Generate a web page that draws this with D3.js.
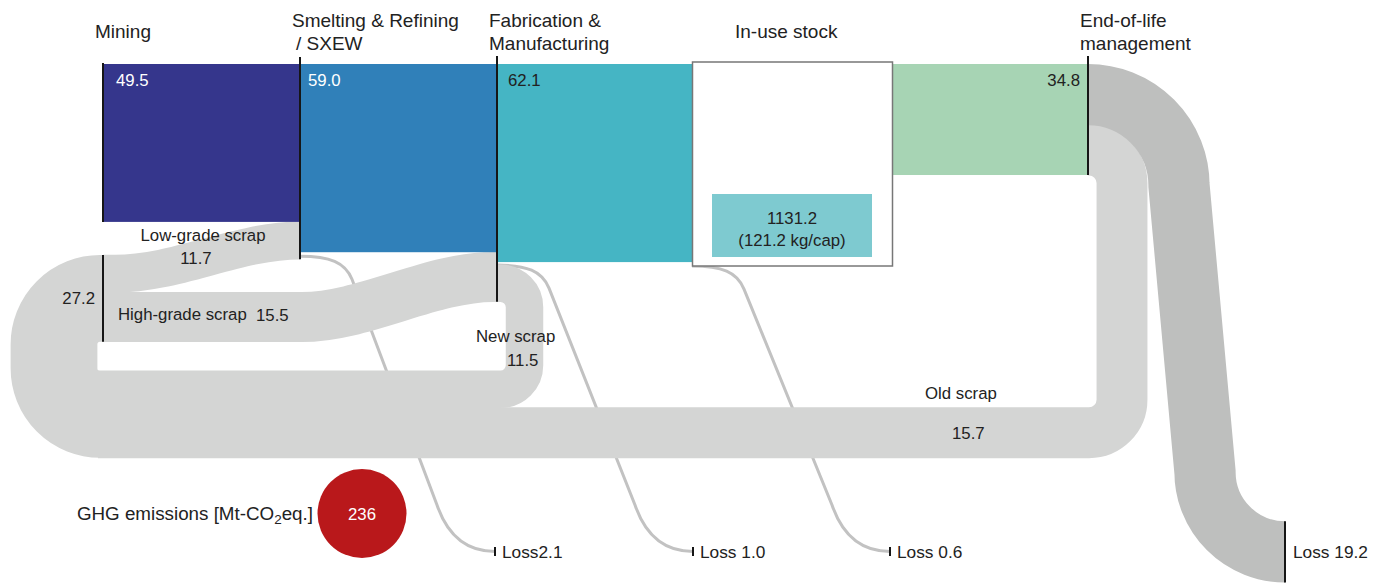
<!DOCTYPE html>
<html><head><meta charset="utf-8">
<script src="https://cdn.jsdelivr.net/npm/d3@7"></script>
<style>
html,body{margin:0;padding:0;background:#fff}
svg{display:block}
text{font-family:"Liberation Sans",Arial,Helvetica,sans-serif;fill:#222}
</style>
</head><body>
<svg id="c" width="1383" height="583"></svg>
<script>
// ---------------- data ----------------
const stageLabels = [["Mining"], ["Smelting & Refining", "/ SXEW"], ["Fabrication &", "Manufacturing"], ["In-use stock"], ["End-of-life", "management"]];
const stageValues = [49.5, 59.0, 62.1, null, 34.8];
const scrapNames = ["Low-grade scrap", "High-grade scrap", "New scrap", "Old scrap"];
const scrapValues = [11.7, 15.5, 11.5, 15.7];
const recycledTotal = 27.2;
const lossLabels = ["Loss", "Loss ", "Loss ", "Loss "];
const lossValues = [2.1, 1.0, 0.6, 19.2];
const stockValue = 1131.2;
const stockPerCap = 121.2;
const ghgValue = 236;

// ---------------- styles ----------------
const stageColors = ["#35368c", "#3080b9", "#45b5c4", null, "#a7d4b4"];
const numColors = ["#fff", "#fff", "#222", null, "#222"];
const scrapColor = "#d4d5d4", lossBandColor = "#bebfbe", lossLineColor = "#c2c2c2";

const svg = d3.select("#c");
const k = d3.scaleLinear().domain([0, 100]).range([0, 319]);      // flow width scale
const xS = d3.scaleLinear().domain([0, 5]).range([103, 1088]);    // stage positions
const yTop = 64;
const scrapTop = 255;
const holeH = 29.2;
const fs = 16.8;

const gLoss = svg.append("g"), gBand = svg.append("g"), gBar = svg.append("g"),
      gLine = svg.append("g"), gText = svg.append("g");

function band(p, w, color, g, pad) {
  (g || gBand).append("path").attr("d", p.toString()).attr("fill", "none")
    .attr("stroke", color).attr("stroke-width", w + (pad || 0)).attr("stroke-linecap", "butt");
}
function vline(x, y0, y1, w) {
  gLine.append("line").attr("x1", x).attr("x2", x).attr("y1", y0).attr("y2", y1)
    .attr("stroke", "#161616").attr("stroke-width", w || 2);
}
function txt(x, y, s, opt) {
  opt = opt || {};
  return gText.append("text").attr("x", x).attr("y", y).text(s)
    .attr("font-size", opt.size || fs).attr("text-anchor", opt.anchor || "start")
    .style("fill", opt.fill || "#222");
}

// ---------------- derived geometry ----------------
const mineBot = yTop + k(stageValues[0]);
const smeltBot = yTop + k(stageValues[1]);
const fabBot = yTop + k(stageValues[2]);
const eolBot = yTop + k(stageValues[4]);
const wLow = k(scrapValues[0]), wHigh = k(scrapValues[1]), wNew = k(scrapValues[2]), wOld = k(scrapValues[3]);
const wTot = k(recycledTotal);
const bottomTop = scrapTop + wTot + holeH;          // top of horizontal return bands
const newY = bottomTop + wNew / 2;
const oldY = bottomTop + wNew + wOld / 2;
const loopBotY = bottomTop + wTot / 2;
const loopTopY = scrapTop + wTot / 2;
const loopX = xS(0) - 3;

// ---------------- thin loss lines ----------------
const lossStarts = [[xS(1), mineBot + wLow - 3], [xS(2), fabBot + 3], [xS(3) - 2, fabBot + 4]];
const lossEnds = [xS(2) - 2, xS(3) - 1, xS(4) - 1];
const lossY = 551.5;
lossStarts.forEach((s, i) => {
  const p = d3.path();
  const xs = s[0], ys = s[1], xe = lossEnds[i];
  p.moveTo(xs, ys);
  p.bezierCurveTo(xs + 30, ys, xs + 45, ys + 6, xs + 52, ys + 23);
  p.lineTo(xe - 58, 505);
  p.bezierCurveTo(xe - 48, 534, xe - 30, lossY, xe, lossY);
  band(p, 3, lossLineColor, gLoss);
  vline(xe, lossY - 4.5, lossY + 4.5, 2);
  txt(xe + 7, lossY + 6, lossLabels[i] + lossValues[i].toFixed(1), {size: 17.3});
});

// ---------------- scrap bands ----------------
// old scrap: from end-of-life down and back left
{
  const p = d3.path();
  const y0 = eolBot - wOld / 2, r = 33, cx = xS(5) + 1, vx = cx + r;
  p.moveTo(xS(5), y0); p.lineTo(cx, y0);
  p.arc(cx, y0 + r, r, -Math.PI / 2, 0, false);
  p.lineTo(vx, oldY - r);
  p.arc(cx, oldY - r, r, 0, Math.PI / 2, false);
  p.lineTo(loopX - 2, oldY);
  band(p, wOld, scrapColor, null, 0.8);
}
// new scrap: from fabrication down and back left
{
  const p = d3.path();
  const y0 = smeltBot + wHigh - wNew / 2, r = 24, cx = xS(2) + 3.5, vx = cx + r;
  p.moveTo(xS(2), y0); p.lineTo(cx, y0);
  p.arc(cx, y0 + r, r, -Math.PI / 2, 0, false);
  p.lineTo(vx, newY - r);
  p.arc(cx, newY - r, r, 0, Math.PI / 2, false);
  p.lineTo(loopX - 2, newY);
  band(p, wNew, scrapColor, null, 0.8);
}
// left loop (combined recycled scrap)
{
  const p = d3.path(), r = 46;
  p.moveTo(xS(0) + 2, loopBotY); p.lineTo(loopX, loopBotY);
  p.arc(loopX, loopBotY - r, r, Math.PI / 2, Math.PI, false);
  p.lineTo(loopX - r, loopTopY + r);
  p.arc(loopX, loopTopY + r, r, Math.PI, Math.PI * 1.5, false);
  p.lineTo(xS(0) + 2, loopTopY);
  band(p, wTot, scrapColor);
}
// low-grade scrap -> smelting
{
  const p = d3.path();
  const y0 = scrapTop + wLow / 2, y1 = mineBot + wLow / 2, x0 = xS(0), x1 = xS(1), dx = (x1 - x0) * 0.32;
  p.moveTo(x0, y0); p.lineTo(x0 + 12, y0);
  p.bezierCurveTo(x0 + 12 + dx, y0, x1 - dx, y1, x1, y1);
  band(p, wLow, scrapColor, null, 0.6);
}
// high-grade scrap -> fabrication
{
  const p = d3.path();
  const y0 = scrapTop + wLow + wHigh / 2, y1 = smeltBot + wHigh / 2, x0 = xS(0), xa = xS(1) + 2, x1 = xS(2) - 4, dx = (x1 - xa) * 0.32;
  p.moveTo(x0, y0); p.lineTo(xa, y0); p.bezierCurveTo(xa + dx, y0, x1 - dx, y1, x1, y1);
  p.lineTo(xS(2), y1);
  band(p, wHigh, scrapColor, null, 0.6);
}
// end-of-life loss band
{
  const w = k(lossValues[3]), y0 = yTop + w / 2, r1 = 91, r2 = 80;
  const endX = 1285, endY = 583 - w / 2 - 0.5;
  const p = d3.path();
  p.moveTo(xS(5), y0);
  p.arc(xS(5), y0 + r1, r1, -Math.PI / 2, 0, false);
  p.lineTo(endX - r2, endY - r2);
  p.arc(endX, endY - r2, r2, Math.PI, Math.PI / 2, true);
  band(p, w, lossBandColor);
  vline(endX, endY - w / 2, endY + w / 2, 2);
  txt(endX + 8, lossY + 6, lossLabels[3] + lossValues[3].toFixed(1), {size: 17.3});
}

// ---------------- stage bars ----------------
stageValues.forEach((v, i) => {
  if (v === null) return;
  const x0 = xS(i), x1 = i === 2 ? xS(3) - 2 : xS(i + 1);
  gBar.append("rect").attr("x", x0).attr("y", yTop).attr("width", x1 - x0).attr("height", k(v))
    .attr("fill", stageColors[i]);
});
// in-use stock box
gBar.append("rect").attr("x", xS(3) - 1.5).attr("y", yTop - 2).attr("width", 200).attr("height", 204)
  .attr("fill", "#fff").attr("stroke", "#777").attr("stroke-width", 1.5);
gBar.append("rect").attr("x", xS(3) + 18).attr("y", 194).attr("width", 160).attr("height", 63)
  .attr("fill", "#7ecad0");
txt(xS(3) + 98, 224, stockValue.toFixed(1), {anchor: "middle"});
txt(xS(3) + 98, 246, "(" + stockPerCap.toFixed(1) + " kg/cap)", {anchor: "middle"});

// black stage lines
vline(xS(0), yTop - 1, mineBot);
vline(xS(0), scrapTop, scrapTop + wTot);
vline(xS(1), yTop - 7, mineBot + wLow);
vline(xS(2), yTop - 8, smeltBot + wHigh);
vline(xS(5), yTop - 8, eolBot);

// ---------------- text ----------------
const tSize = 19;
stageLabels.forEach((lines, i) => {
  let x = i === 3 ? xS(3) + 41 : (i === 4 ? xS(5) - 8 : xS(i) - 8);
  if (lines.length === 1) {
    txt(x, 37.5, lines[0], {size: tSize});
  } else {
    lines.forEach((s, j) => txt(x + (i === 1 && j === 1 ? 4 : 0), 26.5 + j * 23, s, {size: tSize}));
  }
});
// bar values
[0, 1, 2].forEach(i => txt(xS(i) + (i === 0 ? 13 : (i === 1 ? 8 : 11)), 86, stageValues[i].toFixed(1), {fill: numColors[i]}));
txt(xS(5) - 8, 86, stageValues[4].toFixed(1), {anchor: "end"});

// scrap labels
txt(203, 241, scrapNames[0], {anchor: "middle"});
txt(196, 264, scrapValues[0].toFixed(1), {anchor: "middle"});
txt(95, 304, recycledTotal.toFixed(1), {anchor: "end"});
txt(118, 320, scrapNames[1]);
txt(256, 321, scrapValues[1].toFixed(1));
txt(476, 342, scrapNames[2]);
txt(507, 366, scrapValues[2].toFixed(1));
txt(925, 399, scrapNames[3]);
txt(952, 439, scrapValues[3].toFixed(1));

// GHG emissions
gBar.append("circle").attr("cx", 362).attr("cy", 513.5).attr("r", 44.5).attr("fill", "#b9181b");
txt(362, 519.5, String(ghgValue), {anchor: "middle", fill: "#fff"});
{
  const t = txt(313, 519.5, "GHG emissions [Mt-CO", {anchor: "end", size: 18.8});
  t.append("tspan").attr("font-size", 13.5).attr("dy", 4).text("2");
  t.append("tspan").attr("dy", -4).text("eq.]");
}
</script>
</body></html>
